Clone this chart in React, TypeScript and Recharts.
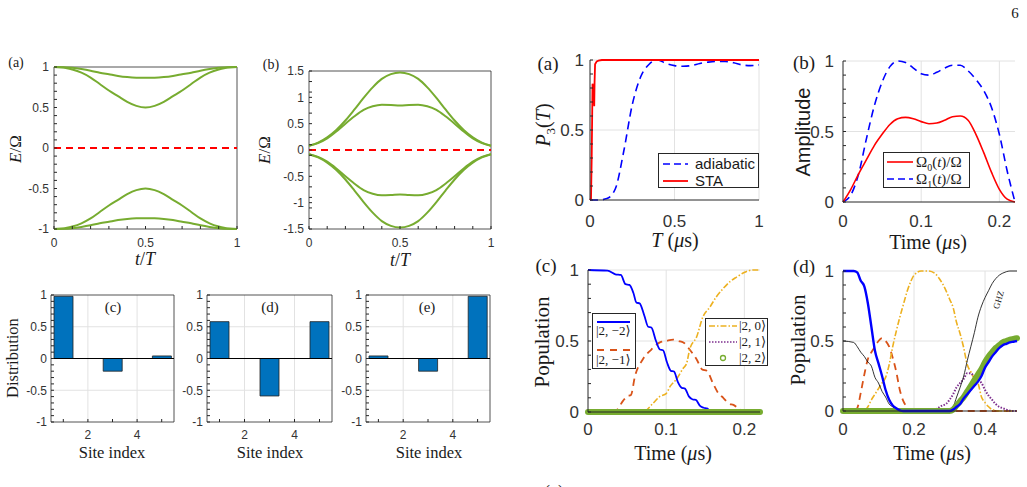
import React from "react";
import {
  LineChart,
  Line,
  BarChart,
  Bar,
  XAxis,
  YAxis,
  CartesianGrid,
  ReferenceArea,
  ReferenceLine,
} from "recharts";

// multi-panel figure: energy spectra, site distributions, STA population transfer

const SERIF = '"Liberation Serif", "DejaVu Serif", serif';
const SANS = '"Liberation Sans", Arial, sans-serif';
const TICK = "#333";
const AXIS = "#262626";
const GRID = "#e2e2e2";

const GREEN = "#77AC30";
const RED = "#FF0000";
const BLUE = "#0000FF";
const ORANGE = "#D95319";
const YELLOW = "#EDB120";
const PURPLE = "#7E2F8E";
const BARBLUE = "#0072BD";

// ---- left (a) : spectrum, t/T
const tGrid = [0, 0.05, 0.1, 0.15, 0.2, 0.25, 0.3, 0.35, 0.4, 0.45, 0.5, 0.55, 0.6, 0.65, 0.7, 0.75, 0.8, 0.85, 0.9, 0.95, 1];
const aOuter = [1, 0.998, 0.99, 0.975, 0.955, 0.93, 0.91, 0.89, 0.876, 0.868, 0.866, 0.868, 0.876, 0.89, 0.91, 0.93, 0.955, 0.975, 0.99, 0.998, 1];
const aInner = [1, 0.995, 0.97, 0.93, 0.87, 0.79, 0.71, 0.64, 0.57, 0.52, 0.5, 0.52, 0.57, 0.64, 0.71, 0.79, 0.87, 0.93, 0.97, 0.995, 1];
const aInnerNeg = [-1, -0.995, -0.97, -0.93, -0.87, -0.79, -0.71, -0.64, -0.57, -0.52, -0.5, -0.52, -0.57, -0.64, -0.71, -0.79, -0.87, -0.93, -0.97, -0.995, -1];
const aOuterNeg = [-1, -0.998, -0.99, -0.975, -0.955, -0.93, -0.91, -0.89, -0.876, -0.868, -0.866, -0.868, -0.876, -0.89, -0.91, -0.93, -0.955, -0.975, -0.99, -0.998, -1];

// ---- left (b)
const bOuter = [0.08, 0.14, 0.24, 0.38, 0.56, 0.77, 0.99, 1.19, 1.35, 1.44, 1.47, 1.44, 1.35, 1.19, 0.99, 0.77, 0.56, 0.38, 0.24, 0.14, 0.08];
const bInner = [0.08, 0.13, 0.22, 0.35, 0.5, 0.64, 0.76, 0.83, 0.86, 0.855, 0.845, 0.855, 0.86, 0.83, 0.76, 0.64, 0.5, 0.35, 0.22, 0.13, 0.08];
const bInnerNeg = [-0.08, -0.13, -0.22, -0.35, -0.5, -0.64, -0.76, -0.83, -0.86, -0.855, -0.845, -0.855, -0.86, -0.83, -0.76, -0.64, -0.5, -0.35, -0.22, -0.13, -0.08];
const bOuterNeg = [-0.08, -0.14, -0.24, -0.38, -0.56, -0.77, -0.99, -1.19, -1.35, -1.44, -1.47, -1.44, -1.35, -1.19, -0.99, -0.77, -0.56, -0.38, -0.24, -0.14, -0.08];

// ---- left (c)(d)(e) : site distributions
const sites = [1, 2, 3, 4, 5];
const distC = [0.98, 0, -0.2, 0, 0.04];
const distD = [0.58, 0, -0.59, 0, 0.58];
const distE = [0.04, 0, -0.2, 0, 0.98];

// ---- right (a) : P3(T)
const adiaT = [0, 0.05, 0.1, 0.15, 0.2, 0.25, 0.3, 0.35, 0.4, 0.45, 0.5, 0.55, 0.6, 0.65, 0.7, 0.75, 0.8, 0.85, 0.9, 0.95, 1];
const adiaP = [0, 0, 0.01, 0.08, 0.35, 0.68, 0.88, 0.97, 1.0, 0.975, 0.96, 0.955, 0.96, 0.975, 0.985, 0.99, 0.99, 0.98, 0.965, 0.96, 0.965];
const staT = [0, 0.006, 0.01, 0.015, 0.02, 0.025, 0.027, 0.03, 0.035, 0.04, 0.05, 0.07, 0.1, 0.3, 0.5, 0.7, 1];
const staP = [0, 0.01, 0.3, 0.83, 0.8, 0.67, 0.84, 0.97, 0.98, 0.99, 0.995, 1, 1, 1, 1, 1, 1];

// ---- right (b) : pulse amplitudes
const ampT = [0, 0.01, 0.02, 0.03, 0.04, 0.05, 0.06, 0.07, 0.08, 0.09, 0.1, 0.11, 0.12, 0.13, 0.14, 0.15, 0.16, 0.17, 0.18, 0.19, 0.2, 0.21, 0.22];
const omega0 = [0, 0.09, 0.2, 0.3, 0.4, 0.48, 0.55, 0.59, 0.6, 0.59, 0.57, 0.555, 0.56, 0.58, 0.605, 0.61, 0.58, 0.48, 0.35, 0.21, 0.09, 0.02, 0];
const omega1 = [0, 0.05, 0.2, 0.45, 0.68, 0.85, 0.96, 1.0, 0.99, 0.95, 0.91, 0.9, 0.92, 0.95, 0.97, 0.97, 0.93, 0.87, 0.79, 0.67, 0.48, 0.22, 0];

// ---- right (c) : populations, STA
const cBlueT = [0, 0.025, 0.035, 0.042, 0.048, 0.053, 0.058, 0.062, 0.066, 0.072, 0.077, 0.081, 0.087, 0.092, 0.096, 0.101, 0.106, 0.11, 0.115, 0.12, 0.124, 0.129, 0.134, 0.138, 0.143, 0.148, 0.152, 0.157, 0.165, 0.22];
const cBlueP = [1, 0.995, 0.97, 0.965, 0.9, 0.895, 0.84, 0.77, 0.765, 0.68, 0.6, 0.595, 0.5, 0.44, 0.435, 0.35, 0.29, 0.285, 0.21, 0.17, 0.165, 0.11, 0.088, 0.085, 0.045, 0.03, 0.025, 0.008, 0, 0];
const cOrT = [0, 0.03, 0.036, 0.045, 0.05, 0.055, 0.06, 0.07, 0.081, 0.092, 0.1, 0.109, 0.116, 0.122, 0.13, 0.139, 0.146, 0.152, 0.16, 0.167, 0.173, 0.18, 0.186, 0.194, 0.2, 0.22];
const cOrP = [0, 0, 0.01, 0.08, 0.11, 0.12, 0.25, 0.37, 0.44, 0.49, 0.5, 0.51, 0.5, 0.49, 0.44, 0.37, 0.3, 0.29, 0.2, 0.13, 0.1, 0.06, 0.05, 0.02, 0.005, 0];
const cYeT = [0, 0.07, 0.083, 0.092, 0.1, 0.105, 0.113, 0.122, 0.126, 0.13, 0.139, 0.147, 0.156, 0.164, 0.173, 0.182, 0.19, 0.199, 0.211, 0.22];
const cYeP = [0, 0, 0.06, 0.11, 0.13, 0.18, 0.23, 0.31, 0.34, 0.44, 0.53, 0.67, 0.74, 0.81, 0.87, 0.92, 0.95, 0.98, 1, 1];
const cZeroT = [0, 0.22];
const cZeroP = [0, 0];

// ---- right (d) : populations, GHZ preparation
const dBlueT = [0, 0.03, 0.04, 0.05, 0.06, 0.07, 0.08, 0.09, 0.1, 0.11, 0.12, 0.13, 0.14, 0.15, 0.16, 0.17, 0.3, 0.31, 0.32, 0.33, 0.34, 0.35, 0.36, 0.37, 0.38, 0.39, 0.4, 0.41, 0.42, 0.43, 0.44, 0.45, 0.46, 0.47, 0.48, 0.49];
const dBlueP = [1, 1, 0.99, 0.93, 0.89, 0.77, 0.6, 0.43, 0.34, 0.25, 0.15, 0.08, 0.04, 0.02, 0.005, 0, 0, 0.01, 0.03, 0.05, 0.09, 0.12, 0.15, 0.18, 0.21, 0.25, 0.31, 0.35, 0.39, 0.42, 0.45, 0.47, 0.48, 0.49, 0.495, 0.5];
const dGreenT = [0, 0.3, 0.31, 0.32, 0.33, 0.34, 0.35, 0.36, 0.37, 0.38, 0.39, 0.4, 0.41, 0.42, 0.43, 0.44, 0.45, 0.46, 0.47, 0.48, 0.49];
const dGreenP = [0, 0, 0.01, 0.04, 0.07, 0.1, 0.14, 0.18, 0.22, 0.26, 0.3, 0.35, 0.39, 0.42, 0.45, 0.47, 0.49, 0.5, 0.51, 0.515, 0.52];
const dGhzT = [0, 0.03, 0.04, 0.05, 0.06, 0.07, 0.08, 0.09, 0.1, 0.11, 0.12, 0.13, 0.14, 0.15, 0.16, 0.29, 0.3, 0.31, 0.32, 0.33, 0.34, 0.35, 0.36, 0.37, 0.38, 0.39, 0.4, 0.41, 0.42, 0.43, 0.44, 0.45, 0.46, 0.47, 0.49];
const dGhzP = [0.5, 0.49, 0.46, 0.42, 0.39, 0.35, 0.32, 0.24, 0.2, 0.14, 0.1, 0.05, 0.03, 0.01, 0, 0, 0.01, 0.03, 0.1, 0.17, 0.25, 0.36, 0.46, 0.56, 0.67, 0.75, 0.81, 0.86, 0.91, 0.945, 0.97, 0.985, 0.995, 1, 1];
const dOrT = [0, 0.03, 0.04, 0.05, 0.06, 0.07, 0.08, 0.09, 0.1, 0.11, 0.12, 0.13, 0.14, 0.15, 0.16, 0.17, 0.18, 0.19, 0.2, 0.49];
const dOrP = [0, 0, 0.02, 0.13, 0.26, 0.37, 0.42, 0.46, 0.5, 0.52, 0.5, 0.46, 0.38, 0.28, 0.15, 0.07, 0.03, 0.005, 0, 0];
const dYeT = [0, 0.06, 0.07, 0.08, 0.09, 0.1, 0.11, 0.12, 0.13, 0.14, 0.15, 0.16, 0.17, 0.18, 0.19, 0.2, 0.22, 0.24, 0.26, 0.27, 0.28, 0.29, 0.3, 0.31, 0.32, 0.33, 0.34, 0.35, 0.36, 0.37, 0.38, 0.39, 0.4, 0.41, 0.42, 0.44, 0.49];
const dYeP = [0, 0, 0.03, 0.08, 0.12, 0.16, 0.2, 0.24, 0.33, 0.46, 0.57, 0.67, 0.76, 0.85, 0.92, 0.97, 1, 1, 0.98, 0.95, 0.91, 0.86, 0.8, 0.74, 0.63, 0.55, 0.45, 0.33, 0.28, 0.23, 0.2, 0.1, 0.06, 0.03, 0.01, 0, 0];
const dPuT = [0, 0.25, 0.26, 0.28, 0.29, 0.3, 0.31, 0.32, 0.33, 0.34, 0.35, 0.36, 0.37, 0.38, 0.39, 0.4, 0.41, 0.42, 0.43, 0.44, 0.45, 0.46, 0.48, 0.49];
const dPuP = [0, 0, 0.01, 0.04, 0.05, 0.08, 0.12, 0.17, 0.2, 0.23, 0.27, 0.27, 0.24, 0.22, 0.2, 0.15, 0.11, 0.08, 0.05, 0.03, 0.02, 0.01, 0, 0];

// tick lists (with minor ticks)
const tenths = [0, 0.1, 0.2, 0.3, 0.4, 0.5, 0.6, 0.7, 0.8, 0.9, 1];
const symTenths = [-1, -0.9, -0.8, -0.7, -0.6, -0.5, -0.4, -0.3, -0.2, -0.1, 0, 0.1, 0.2, 0.3, 0.4, 0.5, 0.6, 0.7, 0.8, 0.9, 1];
const bTicks = [-1.5, -1.3, -1.1, -1, -0.9, -0.7, -0.5, -0.3, -0.1, 0, 0.1, 0.3, 0.5, 0.7, 0.9, 1, 1.1, 1.3, 1.5];

const pts = (xs: number[], ys: number[]) => xs.map((x, i) => ({ x, y: ys[i] }));
const fmt = (majors: number[]) => (v: number) => (majors.includes(v) ? String(v) : "");

const rowsA = tGrid.map((t, i) => ({ t, o1: aOuter[i], i1: aInner[i], i2: aInnerNeg[i], o2: aOuterNeg[i] }));
const rowsB = tGrid.map((t, i) => ({ t, o1: bOuter[i], i1: bInner[i], i2: bInnerNeg[i], o2: bOuterNeg[i] }));

const PAD = 10;
const YW = 60;
const XH = 40;
type Rect = [number, number, number, number];
const place = (r: Rect) => ({
  style: { position: "absolute" as const, left: r[0] - YW, top: r[1] - PAD },
  width: r[2] - r[0] + YW + PAD,
  height: r[3] - r[1] + PAD + XH,
});
const MARGIN = { top: PAD, right: PAD, bottom: 0, left: 0 };

const Txt = ({ x, y, size = 16, rot = 0, font = SERIF, children }: any) => (
  <div
    style={{
      position: "absolute",
      left: x,
      top: y,
      transform: `translate(-50%, -50%) rotate(${rot}deg)`,
      fontFamily: font,
      fontSize: size,
      lineHeight: 1,
      whiteSpace: "nowrap",
      color: "#1a1a1a",
    }}
  >
    {children}
  </div>
);

const Sample = ({ x, y, w, color, dash, width = 2, circle }: any) => (
  <svg style={{ position: "absolute", left: x, top: y - 6 }} width={w} height={12}>
    {circle ? (
      <circle cx={w / 2} cy={6} r={2.5} fill="none" stroke={color} strokeWidth={1.3} />
    ) : (
      <line x1={0} y1={6} x2={w} y2={6} stroke={color} strokeWidth={width} strokeDasharray={dash} />
    )}
  </svg>
);

const LegText = ({ x, y, size = 13, font = SERIF, children }: any) => (
  <div style={{ position: "absolute", left: x, top: y, fontFamily: font, fontSize: size, lineHeight: `${size + 1}px`, whiteSpace: "nowrap", color: "#1a1a1a" }}>
    {children}
  </div>
);

const boxStyle = (l: number, t: number, w: number, h: number) => ({
  position: "absolute" as const,
  left: l,
  top: t,
  width: w,
  height: h,
  border: "1px solid #262626",
  background: "#fff",
  boxSizing: "border-box" as const,
});

function SpectrumPanel({ r, rows, dom, ticks, majors }: any) {
  const p = place(r);
  return (
    <div style={p.style}>
      <LineChart width={p.width} height={p.height} data={rows} margin={MARGIN}>
        <XAxis type="number" dataKey="t" domain={[0, 1]} ticks={tenths} interval={0} tickFormatter={fmt([0, 0.5, 1])}
          axisLine={false} tickSize={-3} tickMargin={12} height={XH} stroke={AXIS}
          tick={{ fill: TICK, fontSize: 12, fontFamily: SANS }} />
        <YAxis type="number" domain={dom} ticks={ticks} interval={0} tickFormatter={fmt(majors)}
          axisLine={false} tickSize={-3} tickMargin={8} width={YW} stroke={AXIS}
          tick={{ fill: TICK, fontSize: 12, fontFamily: SANS }} />
        <Line dataKey="o1" type="monotone" stroke={GREEN} strokeWidth={2} dot={false} isAnimationActive={false} />
        <Line dataKey="i1" type="monotone" stroke={GREEN} strokeWidth={2} dot={false} isAnimationActive={false} />
        <Line dataKey="i2" type="monotone" stroke={GREEN} strokeWidth={2} dot={false} isAnimationActive={false} />
        <Line dataKey="o2" type="monotone" stroke={GREEN} strokeWidth={2} dot={false} isAnimationActive={false} />
        <ReferenceLine y={0} stroke={RED} strokeWidth={2} strokeDasharray="7 5" />
        <ReferenceArea x1={0} x2={1} y1={dom[0]} y2={dom[1]} fill="none" stroke={AXIS} strokeWidth={0.8} ifOverflow="visible" />
      </LineChart>
    </div>
  );
}

function DistPanel({ r, vals }: any) {
  const p = place(r);
  const rows = sites.map((x, i) => ({ x, v: vals[i] }));
  return (
    <div style={p.style}>
      <BarChart width={p.width} height={p.height} data={rows} margin={MARGIN}>
        <CartesianGrid stroke={GRID} verticalValues={[2, 4]} horizontalValues={[-0.5, 0.5]} />
        <XAxis type="number" dataKey="x" domain={[0.5, 5.5]} ticks={[1, 2, 3, 4, 5]} interval={0} tickFormatter={fmt([2, 4])}
          axisLine={false} tickSize={-3} tickMargin={11} height={XH} stroke={AXIS}
          tick={{ fill: TICK, fontSize: 12, fontFamily: SANS }} />
        <YAxis type="number" domain={[-1, 1]} ticks={symTenths} interval={0} tickFormatter={fmt([-1, -0.5, 0, 0.5, 1])}
          axisLine={false} tickSize={-3} tickMargin={7} width={YW} stroke={AXIS}
          tick={{ fill: TICK, fontSize: 12, fontFamily: SANS }} />
        <Bar dataKey="v" fill={BARBLUE} stroke="#222" strokeWidth={0.8} barSize={19} isAnimationActive={false} />
        <ReferenceLine y={0} stroke="#000" strokeWidth={1} />
        <ReferenceArea x1={0.5} x2={5.5} y1={-1} y2={1} fill="none" stroke={AXIS} strokeWidth={0.8} ifOverflow="visible" />
      </BarChart>
    </div>
  );
}

export default function App() {
  const ra = place([590, 60, 759, 200]);
  const rb = place([843, 61, 1015, 202]);
  const rc = place([588, 270, 760, 412]);
  const rd = place([843, 271, 1017, 411]);
  const rTick = { fill: TICK, fontSize: 17, fontFamily: SANS };
  const yRight = (m: number) => (
    <YAxis type="number" domain={[0, 1]} ticks={tenths} interval={0} tickFormatter={fmt([0, 0.5, 1])}
      axisLine={{ stroke: AXIS }} tickLine={{ stroke: AXIS }} tickSize={-3} tickMargin={m} width={YW} tick={rTick} />
  );
  const xRight = (max: number, ticks: number[], m: number) => (
    <XAxis type="number" dataKey="x" domain={[0, max]} ticks={ticks} interval={0}
      axisLine={{ stroke: AXIS }} tickLine={false} tickSize={0} tickMargin={m} height={XH} tick={rTick} />
  );
  const lineProps = { dataKey: "y", dot: false, isAnimationActive: false } as const;

  return (
    <div style={{ position: "absolute", left: 0, top: 0, width: 1027, height: 487, overflow: "hidden", background: "#fff" }}>
      <Txt x={1015} y={13} size={15}>6</Txt>

      {/* left (a), (b) */}
      <SpectrumPanel r={[54, 67, 237, 229]} rows={rowsA} dom={[-1, 1]} ticks={symTenths} majors={[-1, -0.5, 0, 0.5, 1]} />
      <SpectrumPanel r={[309, 71, 491, 229]} rows={rowsB} dom={[-1.5, 1.5]} ticks={bTicks} majors={[-1.5, -1, -0.5, 0, 0.5, 1, 1.5]} />
      <Txt x={16} y={63} size={14}>(a)</Txt>
      <Txt x={271} y={65} size={14}>(b)</Txt>
      <Txt x={15} y={149} size={17} rot={-90}><i>E</i>/Ω</Txt>
      <Txt x={264} y={150} size={17} rot={-90}><i>E</i>/Ω</Txt>
      <Txt x={145} y={259} size={18}><i>t</i>/<i>T</i></Txt>
      <Txt x={400} y={260} size={18}><i>t</i>/<i>T</i></Txt>

      {/* left (c), (d), (e) */}
      <DistPanel r={[51, 295, 174, 422]} vals={distC} />
      <DistPanel r={[207, 295, 332, 422]} vals={distD} />
      <DistPanel r={[366, 295, 490, 422]} vals={distE} />
      <Txt x={113} y={307} size={15}>(c)</Txt>
      <Txt x={270} y={307} size={15}>(d)</Txt>
      <Txt x={427} y={307} size={15}>(e)</Txt>
      <Txt x={13} y={358} size={16.5} rot={-90}>Distribution</Txt>
      <Txt x={112} y={453} size={16.5}>Site index</Txt>
      <Txt x={270} y={453} size={16.5}>Site index</Txt>
      <Txt x={429} y={453} size={16.5}>Site index</Txt>

      {/* right (a) */}
      <div style={ra.style}>
        <LineChart width={ra.width} height={ra.height} margin={MARGIN}>
          <CartesianGrid stroke={GRID} verticalValues={[0.5, 1]} horizontalValues={[0.5, 1]} />
          {xRight(1, [0, 0.5, 1], 15)}
          {yRight(9)}
          <Line {...lineProps} data={pts(adiaT, adiaP)} type="monotone" stroke={BLUE} strokeWidth={1.6} strokeDasharray="8 5" />
          <Line {...lineProps} data={pts(staT, staP)} type="linear" stroke={RED} strokeWidth={1.8} />
        </LineChart>
      </div>
      <Txt x={548} y={63} size={19}>(a)</Txt>
      <Txt x={545} y={125} size={20} rot={-90}><i>P</i><sub style={{ fontSize: 13 }}>3</sub>(<i>T</i>)</Txt>
      <Txt x={675} y={240} size={20}><i>T</i> (<i>μ</i>s)</Txt>
      <div style={boxStyle(658, 153, 101, 35)}>
        <Sample x={4} y={10} w={25} color={BLUE} dash="7 4" width={1.6} />
        <Sample x={4} y={27} w={25} color={RED} width={1.8} />
        <LegText x={36} y={2} size={15} font={SANS}>adiabatic</LegText>
        <LegText x={36} y={19} size={15} font={SANS}>STA</LegText>
      </div>

      {/* right (b) */}
      <div style={rb.style}>
        <LineChart width={rb.width} height={rb.height} margin={MARGIN}>
          <CartesianGrid stroke={GRID} verticalValues={[0.1, 0.2]} horizontalValues={[0.5, 1]} />
          {xRight(0.22, [0, 0.1, 0.2], 13)}
          {yRight(12)}
          <Line {...lineProps} data={pts(ampT, omega1)} type="monotone" stroke={BLUE} strokeWidth={1.6} strokeDasharray="8 5" />
          <Line {...lineProps} data={pts(ampT, omega0)} type="monotone" stroke={RED} strokeWidth={1.6} />
        </LineChart>
      </div>
      <Txt x={804} y={62} size={19}>(b)</Txt>
      <Txt x={803} y={132} size={20} rot={-90} font={SANS}>Amplitude</Txt>
      <Txt x={928} y={242} size={20}>Time (<i>μ</i>s)</Txt>
      <div style={boxStyle(883, 152, 87, 36)}>
        <Sample x={3} y={9} w={26} color={RED} width={1.6} />
        <Sample x={3} y={26} w={26} color={BLUE} dash="7 4" width={1.6} />
        <LegText x={32} y={1} size={15}>Ω<sub style={{ fontSize: 10, lineHeight: 0 }}>0</sub>(<i>t</i>)/Ω</LegText>
        <LegText x={32} y={18} size={15}>Ω<sub style={{ fontSize: 10, lineHeight: 0 }}>1</sub>(<i>t</i>)/Ω</LegText>
      </div>

      {/* right (c) */}
      <div style={rc.style}>
        <LineChart width={rc.width} height={rc.height} margin={MARGIN}>
          <CartesianGrid stroke={GRID} verticalValues={[0.1, 0.2]} horizontalValues={[0.5, 1]} />
          {xRight(0.22, [0, 0.1, 0.2], 11)}
          {yRight(12)}
          <Line {...lineProps} data={pts(cOrT, cOrP)} type="monotone" stroke={ORANGE} strokeWidth={1.8} strokeDasharray="7 5" />
          <Line {...lineProps} data={pts(cYeT, cYeP)} type="monotone" stroke={YELLOW} strokeWidth={1.6} strokeDasharray="6 2 1.5 2" />
          <Line {...lineProps} data={pts(cBlueT, cBlueP)} type="monotone" stroke={BLUE} strokeWidth={1.8} />
          <Line {...lineProps} data={pts(cZeroT, cZeroP)} type="linear" stroke={PURPLE} strokeWidth={1.5} strokeDasharray="1.5 1.5" />
          <Line {...lineProps} data={pts(cZeroT, cZeroP)} type="linear" stroke={GREEN} strokeWidth={6} strokeLinecap="round" />
        </LineChart>
      </div>
      <Txt x={546} y={265} size={19}>(c)</Txt>
      <Txt x={542} y={342} size={21} rot={-90}>Population</Txt>
      <Txt x={673} y={453} size={20}>Time (<i>μ</i>s)</Txt>
      <div style={boxStyle(592, 313, 44, 56)}>
        <Sample x={4} y={8} w={33} color={BLUE} width={2} />
        <Sample x={4} y={36} w={33} color={ORANGE} dash="7 6" width={1.8} />
        <LegText x={3} y={10}>|2, −2⟩</LegText>
        <LegText x={3} y={39}>|2, −1⟩</LegText>
      </div>
      <div style={boxStyle(705, 318, 63, 48)}>
        <Sample x={3} y={7} w={28} color={YELLOW} dash="6 2 1.5 2" width={1.6} />
        <Sample x={3} y={23} w={28} color={PURPLE} dash="1.5 1.5" width={1.5} />
        <Sample x={3} y={39} w={28} color={GREEN} circle />
        <LegText x={33} y={0}>|2, 0⟩</LegText>
        <LegText x={33} y={16}>|2, 1⟩</LegText>
        <LegText x={33} y={32}>|2, 2⟩</LegText>
      </div>

      {/* right (d) */}
      <div style={rd.style}>
        <LineChart width={rd.width} height={rd.height} margin={MARGIN}>
          <CartesianGrid stroke={GRID} verticalValues={[0.2, 0.4]} horizontalValues={[0.5, 1]} />
          {xRight(0.49, [0, 0.2, 0.4], 12)}
          {yRight(12)}
          <Line {...lineProps} data={pts(dOrT, dOrP)} type="monotone" stroke={ORANGE} strokeWidth={1.8} strokeDasharray="7 5" />
          <Line {...lineProps} data={pts(dYeT, dYeP)} type="monotone" stroke={YELLOW} strokeWidth={1.6} strokeDasharray="6 2 1.5 2" />
          <Line {...lineProps} data={pts(dPuT, dPuP)} type="monotone" stroke={PURPLE} strokeWidth={2} strokeDasharray="1.5 1.5" />
          <Line {...lineProps} data={pts(dGhzT, dGhzP)} type="monotone" stroke="#000" strokeWidth={0.8} />
          <Line {...lineProps} data={pts(dGreenT, dGreenP)} type="monotone" stroke={GREEN} strokeWidth={6} strokeLinecap="round" />
          <Line {...lineProps} data={pts(dBlueT, dBlueP)} type="monotone" stroke={BLUE} strokeWidth={2.4} />
        </LineChart>
      </div>
      <Txt x={804} y={266} size={19}>(d)</Txt>
      <Txt x={798} y={340} size={21} rot={-90}>Population</Txt>
      <Txt x={932} y={453} size={20}>Time (<i>μ</i>s)</Txt>
      <Txt x={999} y={300} size={9} rot={-74}>GHZ</Txt>

      <Txt x={554} y={492} size={18}>(e)</Txt>
    </div>
  );
}
